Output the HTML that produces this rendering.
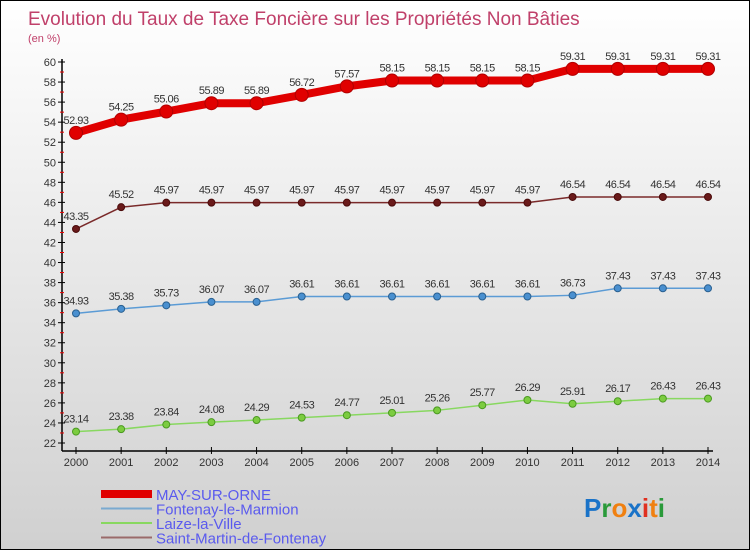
<!DOCTYPE html>
<html><head><meta charset="utf-8"><style>
body{margin:0;width:750px;height:550px;overflow:hidden}
#wrap{position:relative;width:748px;height:548px;border:1px solid #000;background:linear-gradient(#fff,#d0d0d0)}
svg{position:absolute;left:0;top:0}
text{font-family:"Liberation Sans",sans-serif}
</style></head><body>
<div id="wrap">
<svg id="chart" width="750" height="550">
<text x="27" y="24" font-size="19" fill="#c0406a">Evolution du Taux de Taxe Foncière sur les Propriétés Non Bâties</text>
<text x="27" y="41" font-size="11" fill="#c0406a">(en %)</text>
<g id="axes"></g><g id="series"></g><g id="legend"></g>
<text x="583" y="516" font-size="26" font-weight="bold"><tspan fill="#1a73c8">P</tspan><tspan fill="#2a9a3a">r</tspan><tspan fill="#f08010">o</tspan><tspan fill="#1a73c8">x</tspan><tspan fill="#e03020">i</tspan><tspan fill="#f08010">t</tspan><tspan fill="#2a9a3a">i</tspan></text>
</svg></div>
<script>
const years=[2000,2001,2002,2003,2004,2005,2006,2007,2008,2009,2010,2011,2012,2013,2014];
const may=[52.93,54.25,55.06,55.89,55.89,56.72,57.57,58.15,58.15,58.15,58.15,59.31,59.31,59.31,59.31];
const fontenay=[34.93,35.38,35.73,36.07,36.07,36.61,36.61,36.61,36.61,36.61,36.61,36.73,37.43,37.43,37.43];
const laize=[23.14,23.38,23.84,24.08,24.29,24.53,24.77,25.01,25.26,25.77,26.29,25.91,26.17,26.43,26.43];
const saint=[43.35,45.52,45.97,45.97,45.97,45.97,45.97,45.97,45.97,45.97,45.97,46.54,46.54,46.54,46.54];
const yTicks=[22,24,26,28,30,32,34,36,38,40,42,44,46,48,50,52,54,56,58,60];
const names=["MAY-SUR-ORNE","Fontenay-le-Marmion","Laize-la-Ville","Saint-Martin-de-Fontenay"];
const NS="http://www.w3.org/2000/svg";
const X=i=>75+i*(707-75)/(years.length-1);
const Y=v=>442-(v-22)*(442-61)/38;
function mk(t,a,p){const e=document.createElementNS(NS,t);for(const k in a)e.setAttribute(k,a[k]);p.appendChild(e);return e;}
const ax=document.getElementById('axes');
let e=mk('line',{x1:61,y1:58,x2:61,y2:450,stroke:'#000','stroke-width':1.5},ax);

e=mk('line',{x1:61,y1:450,x2:712,y2:450,stroke:'#000','stroke-width':1.5},ax);

yTicks.forEach(v=>{
 mk('line',{x1:57,y1:Y(v),x2:64,y2:Y(v),stroke:'#000'},ax);
 if(v<60)mk('line',{x1:59,y1:Y(v+1),x2:63,y2:Y(v+1),stroke:'#e00'},ax);
 const t=mk('text',{x:55,y:Y(v)+4,'font-size':11,fill:'#333','text-anchor':'end'},ax);t.textContent=v;
 
});
years.forEach((y,i)=>{
 mk('line',{x1:X(i),y1:446,x2:X(i),y2:453,stroke:'#000'},ax);
 const t=mk('text',{x:X(i),y:465,'font-size':11,fill:'#333','text-anchor':'middle'},ax);t.textContent=y;
 
});
const sg=document.getElementById('series');
const defs=[[may,'#e00000',8,6.5,'#e00000','#b00000'],[fontenay,'#5b9bd5',1.5,3.5,'#4a90d0','#2a6090'],[laize,'#88d860',1.5,3.5,'#7ccc40','#4a9a20'],[saint,'#7a2a2a',1.5,3.5,'#6a1a1a','#4a0a0a']];
const sn=['may-sur-orne','fontenay-le-marmion','laize-la-ville','saint-martin-de-fontenay'];
defs.forEach((d,s)=>{
 const [vals,col,w,r,fill,str]=d;
 const p=mk('polyline',{points:vals.map((v,i)=>X(i)+','+Y(v)).join(' '),fill:'none',stroke:col,'stroke-width':w,'stroke-linejoin':'round'},sg);
 
 vals.forEach((v,i)=>{
  const c=mk('circle',{cx:X(i),cy:Y(v),r:r,fill:fill,stroke:str,'stroke-width':1},sg);
  
  const t=mk('text',{x:X(i),y:Y(v)-9,'font-size':11,fill:'#333','text-anchor':'middle','letter-spacing':'-0.5'},sg);
  t.textContent=v.toFixed(2).replace(/0$/,'');
  
 });
});
const lg=document.getElementById('legend');
const lc=['#e00000','#7aaad0','#88d860','#9a6a6a'],lw=[8,2,2,2];
names.forEach((n,i)=>{
 const y=493+i*14.5;
 mk('line',{x1:100,y1:y,x2:151,y2:y,stroke:lc[i],'stroke-width':lw[i]},lg);
 const t=mk('text',{x:155,y:y+6,'font-size':15,fill:'#5a5aee'},lg);t.textContent=n;
 
});
</script>
</body></html>
